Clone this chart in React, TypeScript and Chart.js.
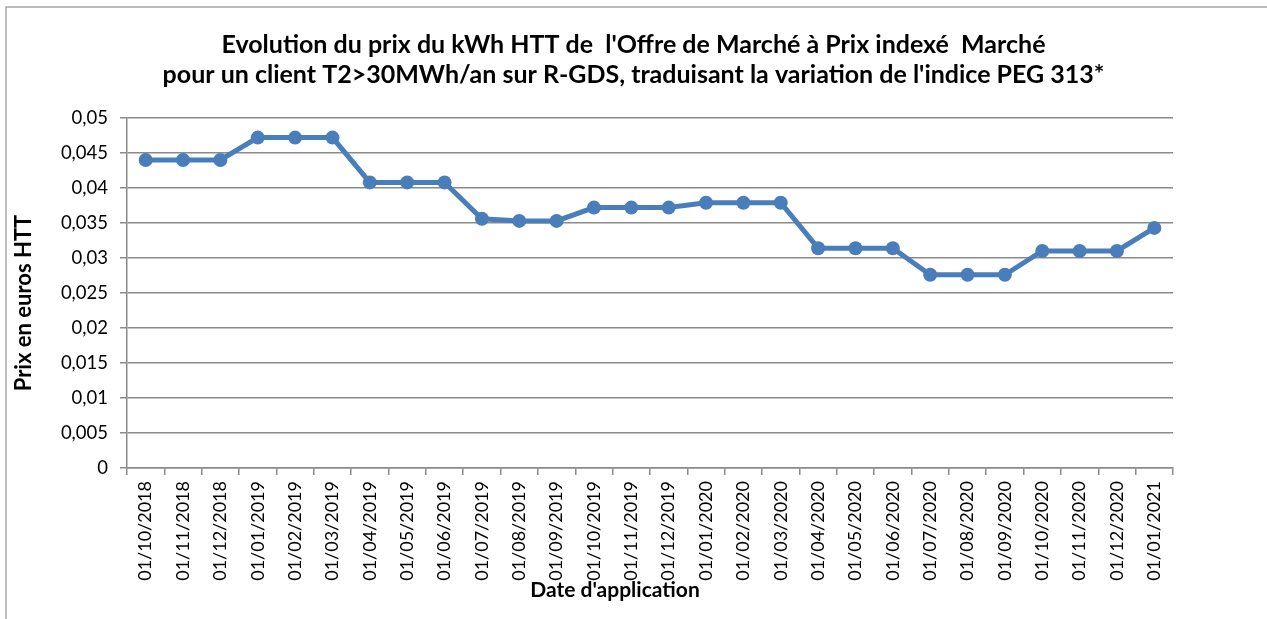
import React, { useEffect, useRef } from "react";
import { Chart, registerables } from "chart.js";

Chart.register(...registerables);

const categories = [
  "01/10/2018", "01/11/2018", "01/12/2018", "01/01/2019", "01/02/2019", "01/03/2019",
  "01/04/2019", "01/05/2019", "01/06/2019", "01/07/2019", "01/08/2019", "01/09/2019",
  "01/10/2019", "01/11/2019", "01/12/2019", "01/01/2020", "01/02/2020", "01/03/2020",
  "01/04/2020", "01/05/2020", "01/06/2020", "01/07/2020", "01/08/2020", "01/09/2020",
  "01/10/2020", "01/11/2020", "01/12/2020", "01/01/2021",
];

const prices = [
  0.0440, 0.0440, 0.0440, 0.0472, 0.0472, 0.0472,
  0.0408, 0.0408, 0.0408, 0.0356, 0.0353, 0.0353,
  0.0372, 0.0372, 0.0372, 0.0379, 0.0379, 0.0379,
  0.0314, 0.0314, 0.0314, 0.0276, 0.0276, 0.0276,
  0.0310, 0.0310, 0.0310, 0.0343,
];

const yMin = 0;
const yMax = 0.05;
const yStep = 0.005;

const titleLines = [
  "Evolution du prix du kWh HTT de  l'Offre de Marché à Prix indexé  Marché",
  "pour un client T2>30MWh/an sur R-GDS, traduisant la variation de l'indice PEG 313*",
];
const yAxisTitle = "Prix en euros HTT";
const xAxisTitle = "Date d'application";

const FONT = "Lato, 'DejaVu Sans', sans-serif";
const GRID = "#8a8a8a";
const BLUE = "#4a7ebb";

const W = 1267;
const H = 619;

const decorPlugin = {
  id: "decor",
  beforeDraw(chart: any) {
    const ctx = chart.ctx;
    ctx.save();
    ctx.fillStyle = "#ffffff";
    ctx.fillRect(0, 0, chart.width, chart.height);
    ctx.strokeStyle = "#a6a6a6";
    ctx.lineWidth = 1.5;
    ctx.beginPath();
    ctx.moveTo(6, chart.height);
    ctx.lineTo(6, 7);
    ctx.lineTo(chart.width, 7);
    ctx.stroke();
    ctx.restore();
  },
  afterDraw(chart: any) {
    const ctx = chart.ctx;
    ctx.save();
    ctx.fillStyle = "#000";
    ctx.textAlign = "center";
    ctx.textBaseline = "middle";
    ctx.font = `bold 21px ${FONT}`;
    ctx.fillText(xAxisTitle, 615, 590);
    ctx.font = `bold 22px ${FONT}`;
    ctx.translate(24, 303);
    ctx.rotate(-Math.PI / 2);
    ctx.fillText(yAxisTitle, 0, 0);
    ctx.restore();
  },
};

function fmt(v: number) {
  const r = Number(v.toFixed(3));
  return r.toString().replace(".", ",");
}

export default function App() {
  const ref = useRef<HTMLCanvasElement | null>(null);

  useEffect(() => {
    if (!ref.current) return;
    const chart = new Chart(ref.current, {
      type: "line",
      data: {
        labels: categories,
        datasets: [
          {
            data: prices,
            borderColor: BLUE,
            backgroundColor: BLUE,
            borderWidth: 5,
            pointRadius: 7,
            pointHoverRadius: 7,
            pointBackgroundColor: BLUE,
            pointBorderColor: BLUE,
            pointBorderWidth: 0,
            tension: 0,
            yAxisID: "y",
          },
        ],
      },
      options: {
        responsive: false,
        animation: false,
        layout: { padding: 0 },
        plugins: {
          legend: { display: false },
          tooltip: { enabled: false },
          title: {
            display: true,
            text: titleLines,
            color: "#000",
            font: { family: FONT, size: 25, weight: "bold", lineHeight: 1.2 },
            padding: { top: 30, bottom: 28 },
          },
        },
        scales: {
          x: {
            type: "category",
            offset: true,
            grid: {
              display: true,
              offset: true,
              drawOnChartArea: false,
              drawTicks: true,
              tickLength: 7,
              color: GRID,
              lineWidth: 1.5,
            },
            border: { display: true, color: GRID, width: 1.5 },
            ticks: {
              autoSkip: false,
              maxRotation: 90,
              minRotation: 90,
              padding: 6,
              color: "#000",
              font: { family: FONT, size: 18 },
            },
            afterFit(scale: any) {
              scale.height = 151;
            },
          },
          y: {
            min: yMin,
            max: yMax,
            grid: {
              display: true,
              drawOnChartArea: true,
              drawTicks: true,
              tickLength: 7,
              color: GRID,
              lineWidth: 1.5,
            },
            border: { display: true, color: GRID, width: 1.5 },
            ticks: {
              stepSize: yStep,
              padding: 12,
              color: "#000",
              font: { family: FONT, size: 18.5 },
              callback: (v: any) => fmt(Number(v)),
            },
            afterFit(scale: any) {
              scale.width = 127;
            },
          },
          spacer: {
            type: "linear",
            position: "right",
            display: true,
            grid: { display: false, drawTicks: false },
            border: { display: false },
            ticks: { display: false },
            afterFit(scale: any) {
              scale.width = 94;
            },
          },
        },
      },
      plugins: [decorPlugin],
    });
    return () => chart.destroy();
  }, []);

  return (
    <div style={{ position: "absolute", left: 0, top: 0, width: W, height: H }}>
      <canvas ref={ref} width={W} height={H} style={{ display: "block", width: W, height: H }} />
    </div>
  );
}
